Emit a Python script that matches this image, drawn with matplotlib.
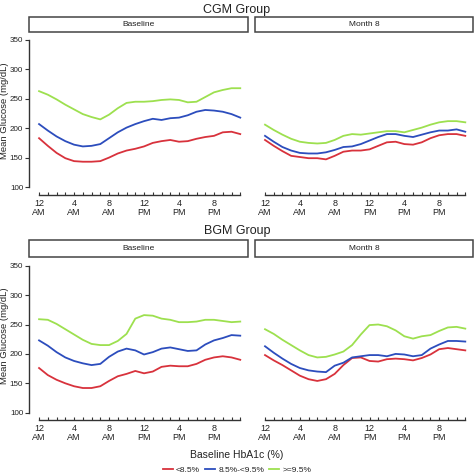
import matplotlib
matplotlib.use("Agg")
import matplotlib.pyplot as plt
from matplotlib.patches import Rectangle
from matplotlib.lines import Line2D

plt.rcParams['font.family'] = ['Liberation Sans', 'DejaVu Sans']

hours = list(range(24))
series_labels = ["<8.5%", "8.5%-<9.5%", ">=9.5%"]
colors = ["#d8323c", "#2c4dbd", "#9de04f"]

# CGM group
cgm_base_low = [183, 170, 158, 149, 144, 143, 143, 144, 150, 157, 162, 165, 169, 175, 178, 180, 177, 178, 182, 185, 187, 193, 194, 190]
cgm_base_mid = [207, 196, 186, 178, 172, 169, 170, 173, 183, 193, 201, 207, 212, 216, 214, 217, 218, 222, 228, 231, 230, 228, 224, 218]
cgm_base_high = [263, 257, 249, 240, 232, 224, 219, 215, 223, 234, 243, 245, 245, 246, 248, 249, 248, 244, 245, 253, 261, 265, 268, 268]
cgm_m8_low = [180, 170, 161, 153, 151, 149, 149, 147, 153, 160, 162, 162, 164, 170, 176, 177, 173, 172, 176, 183, 188, 190, 190, 187]
cgm_m8_mid = [187, 177, 168, 162, 158, 157, 157, 159, 163, 168, 169, 173, 179, 185, 190, 190, 187, 185, 189, 193, 196, 196, 198, 194]
cgm_m8_high = [206, 197, 189, 182, 177, 175, 174, 175, 180, 187, 190, 189, 191, 193, 195, 195, 193, 197, 201, 206, 210, 212, 212, 210]

# BGM group
bgm_base_low = [176, 164, 156, 150, 145, 142, 142, 145, 154, 162, 166, 171, 167, 170, 178, 180, 179, 179, 183, 190, 194, 196, 194, 190]
bgm_base_mid = [223, 214, 203, 194, 188, 184, 181, 183, 195, 204, 209, 206, 199, 203, 209, 211, 208, 205, 206, 216, 223, 227, 232, 231]
bgm_base_high = [259, 258, 251, 242, 233, 224, 217, 215, 215, 222, 234, 260, 266, 265, 260, 258, 254, 254, 255, 258, 258, 256, 254, 255]
bgm_m8_low = [198, 189, 181, 172, 163, 157, 154, 157, 166, 181, 193, 194, 188, 187, 191, 192, 191, 189, 193, 199, 208, 210, 208, 206]
bgm_m8_mid = [213, 202, 192, 183, 176, 172, 170, 169, 180, 185, 194, 196, 198, 198, 196, 200, 199, 196, 198, 209, 216, 222, 222, 221]
bgm_m8_high = [242, 234, 224, 215, 206, 198, 194, 195, 199, 204, 215, 233, 249, 250, 247, 240, 230, 226, 230, 232, 239, 245, 246, 243]

group_titles = ["CGM Group", "BGM Group"]
panel_titles = ["Baseline", "Month 8"]
x_tick_pos = [0, 4, 8, 12, 16, 20]
x_tick_labels = ["12\nAM", "4\nAM", "8\nAM", "12\nPM", "4\nPM", "8\nPM"]
y_ticks = [100, 150, 200, 250, 300, 350]

data = [
    [[cgm_base_low, cgm_base_mid, cgm_base_high], [cgm_m8_low, cgm_m8_mid, cgm_m8_high]],
    [[bgm_base_low, bgm_base_mid, bgm_base_high], [bgm_m8_low, bgm_m8_mid, bgm_m8_high]],
]

W = H = 474
fig = plt.figure(figsize=(4.74, 4.74), dpi=100)

def rect(x0, y0, x1, y1):
    return [x0 / W, 1 - y1 / H, (x1 - x0) / W, (y1 - y0) / H]

txt = "#222222"
axcol = "#333333"

# rows: (title_y, strip_y0, strip_y1, ax_top, ax_bottom, ylim)
rows = [
    (10, 17, 32, 33, 195, (86.4, 361.9)),
    (231, 240, 257, 257, 420, (87.6, 364.8)),
]
cols = [(29, 248), (255, 473)]

for r, (ty, sy0, sy1, at, ab, ylim) in enumerate(rows):
    fig.text(237 / W, 1 - ty / H, group_titles[r], ha="center", va="center",
             fontsize=9, color=txt)
    for c, (x0, x1) in enumerate(cols):
        # strip box
        fig.patches.append(Rectangle((x0 / W, 1 - sy1 / H), (x1 - x0) / W, (sy1 - sy0) / H,
                                     transform=fig.transFigure, facecolor="white",
                                     edgecolor="#444444", linewidth=1.1))
        fig.text((x0 + x1) / 2 / W, 1 - (sy0 + sy1) / 2 / H, panel_titles[c],
                 ha="center", va="center", fontsize=6, color=txt)
        ax = fig.add_axes(rect(x0, at, x1 + 1, ab))
        ax.set_facecolor("none")
        for k in range(3):
            ax.plot(hours, data[r][c][k], color=colors[k], linewidth=1.3)
        ax.set_xlim(-1.15, 24.0)
        ax.set_ylim(*ylim)
        for s in ["top", "right"]:
            ax.spines[s].set_visible(False)
        ax.spines["bottom"].set_bounds(0, 23)
        ax.spines["bottom"].set_color(axcol)
        ax.spines["bottom"].set_linewidth(1.0)
        ax.set_xticks(x_tick_pos)
        ax.set_xticklabels(x_tick_labels, fontsize=6.5, color=txt, linespacing=1.0)
        ax.set_xticks(hours, minor=True)
        ax.tick_params(axis="x", which="both", direction="in", length=2.5,
                       width=0.8, color=axcol, pad=3)
        if c == 0:
            ax.spines["left"].set_bounds(100, 350)
            ax.spines["left"].set_color(axcol)
            ax.spines["left"].set_linewidth(1.0)
            ax.set_yticks(y_ticks)
            ax.set_yticklabels([str(v) for v in y_ticks], fontsize=5.8, color=txt)
            ax.tick_params(axis="y", direction="out", length=3, width=0.8,
                           color=axcol, pad=1.2)
        else:
            ax.spines["left"].set_visible(False)
            ax.set_yticks([])
    fig.text(5 / W, 1 - ((at + ab) / 2 - 3) / H, "Mean Glucose (mg/dL)", rotation=90,
             ha="center", va="center", fontsize=6.8, color=txt)

fig.text(237 / W, 1 - 455 / H, "Baseline HbA1c (%)", ha="center", va="center",
         fontsize=7.5, color=txt)
handles = [Line2D([0], [0], color=colors[k], linewidth=1.3) for k in range(3)]
fig.legend(handles, series_labels, loc="center", bbox_to_anchor=(237 / W, 1 - 470 / H),
           ncol=3, frameon=False, fontsize=6, handlelength=1.2, handletextpad=0.4,
           columnspacing=0.6, labelcolor=txt)

fig.savefig("out.png", dpi=100)
